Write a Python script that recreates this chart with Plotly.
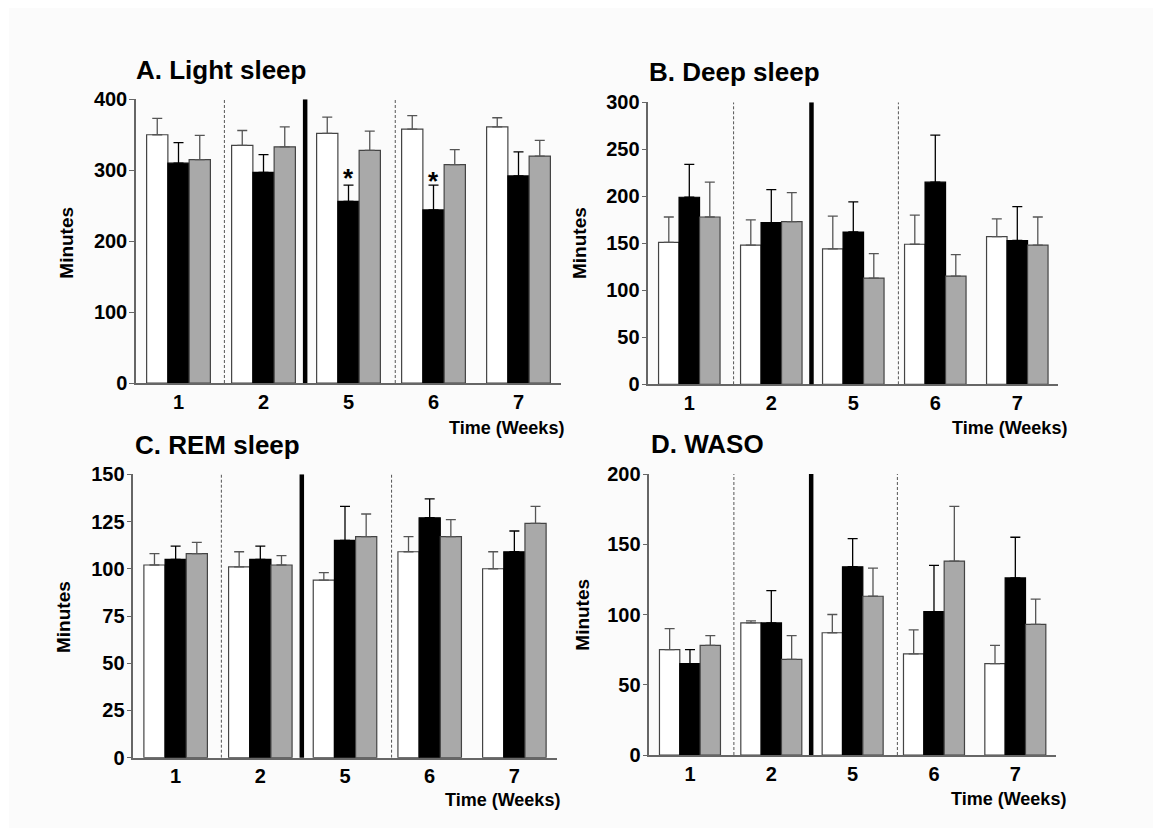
import plotly.graph_objects as go

W, H = 1153, 828

weeks = ['1', '2', '5', '6', '7']

# A. Light sleep
light_white = [350, 335, 352, 358, 361]
light_white_err = [23, 21, 23, 19, 13]
light_black = [310, 297, 256, 244, 292]
light_black_err = [29, 25, 23, 35, 34]
light_grey = [315, 333, 328, 308, 320]
light_grey_err = [34, 28, 27, 21, 22]

# B. Deep sleep
deep_white = [151, 148, 144, 149, 157]
deep_white_err = [27, 27, 35, 31, 19]
deep_black = [199, 172, 162, 215, 153]
deep_black_err = [35, 35, 32, 50, 36]
deep_grey = [178, 173, 113, 115, 148]
deep_grey_err = [37, 31, 26, 23, 30]

# C. REM sleep
rem_white = [102, 101, 94, 109, 100]
rem_white_err = [6, 8, 4, 8, 9]
rem_black = [105, 105, 115, 127, 109]
rem_black_err = [7, 7, 18, 10, 11]
rem_grey = [108, 102, 117, 117, 124]
rem_grey_err = [6, 5, 12, 9, 9]

# D. WASO
waso_white = [75, 94, 87, 72, 65]
waso_white_err = [15, 1.5, 13, 17, 13]
waso_black = [65, 94, 134, 102, 126]
waso_black_err = [10, 23, 20, 33, 29]
waso_grey = [78, 68, 113, 138, 93]
waso_grey_err = [7, 17, 20, 39, 18]

titles = ['A. Light sleep', 'B. Deep sleep', 'C. REM sleep', 'D. WASO']
y_max = [400, 300, 150, 200]
y_dtick = [100, 50, 25, 50]

panels = [
    (light_white, light_white_err, light_black, light_black_err, light_grey, light_grey_err),
    (deep_white, deep_white_err, deep_black, deep_black_err, deep_grey, deep_grey_err),
    (rem_white, rem_white_err, rem_black, rem_black_err, rem_grey, rem_grey_err),
    (waso_white, waso_white_err, waso_black, waso_black_err, waso_grey, waso_grey_err),
]

# pixel boxes of plot areas (left, right, top, bottom)
boxes = [
    (136, 561, 99.3, 383),
    (648.3, 1058.3, 102.3, 384.3),
    (133.3, 556.7, 474.3, 757.7),
    (649.3, 1056, 474, 755),
]

def px(x):
    return x / W

def py(y):
    return 1 - y / H

FONT = 'Arial, Liberation Sans, sans-serif'
AXC = '#666666'

fig = go.Figure()
layout = dict(
    width=W, height=H,
    margin=dict(l=0, r=0, t=0, b=0, pad=0, autoexpand=False),
    paper_bgcolor='white',
    plot_bgcolor='rgba(0,0,0,0)',
    showlegend=False,
    barmode='group',
    bargap=0.25,
    bargroupgap=0,
    font=dict(family=FONT, color='black'),
)

annotations = []
shapes = [dict(type='rect', xref='paper', yref='paper', x0=px(9), x1=1, y0=0, y1=py(8),
               fillcolor='#fbfbfb', line=dict(width=0), layer='below')]

title_pos = [(134, 70), (647, 71.5), (133, 444.5), (649, 443.5)]
ylab_pos = [(66.7, 243), (580, 243), (63.3, 616.7), (581.7, 615)]
xlab_pos = [(566, 428), (1069, 428), (562, 800), (1068, 799)]

for i, (wv, we, bv, be, gv, ge) in enumerate(panels):
    n = '' if i == 0 else str(i + 1)
    xa, ya = 'x' + n, 'y' + n
    series = [
        (wv, we, 'white', '#444444', '#555555'),
        (bv, be, 'black', 'black', 'black'),
        (gv, ge, '#a9a9a9', '#444444', '#555555'),
    ]
    for vals, errs, fc, lc, ec in series:
        fig.add_trace(go.Bar(
            x=weeks, y=vals, xaxis=xa, yaxis=ya,
            marker=dict(color=fc, line=dict(color=lc, width=1.2)),
            error_y=dict(type='data', array=errs, arrayminus=[0] * len(errs),
                         symmetric=False, color=ec, thickness=1.3, width=5),
        ))
    l, r, t, b = boxes[i]
    layout['xaxis' + n] = dict(
        domain=[px(l), px(r)], anchor=ya, type='category', range=[-0.5, 4.5],
        showline=True, linecolor=AXC, linewidth=1.5, ticks='', showgrid=False,
        tickfont=dict(size=20, family=FONT, weight='bold', color='black'),
        fixedrange=True, automargin=False,
    )
    layout['yaxis' + n] = dict(
        domain=[py(b), py(t)], anchor=xa, range=[0, y_max[i]], dtick=y_dtick[i],
        showline=True, linecolor=AXC, linewidth=1.5, ticks='outside', ticklen=5,
        tickcolor=AXC, tickwidth=1.2, showgrid=False, zeroline=False,
        tickfont=dict(size=20, family=FONT, weight='bold', color='black'),
        ticklabelstandoff=-2, automargin=False, fixedrange=True,
    )
    # separators
    for xv in (0.54, 2.55):
        shapes.append(dict(type='line', xref=xa, yref=ya, x0=xv, x1=xv, y0=0, y1=y_max[i],
                           line=dict(color='#555555', width=1, dash='3px,2px')))
    shapes.append(dict(type='line', xref=xa, yref=ya, x0=1.49, x1=1.49,
                       y0=-0.008 * y_max[i], y1=y_max[i],
                       line=dict(color='black', width=4.5)))
    tx, ty = title_pos[i]
    annotations.append(dict(text=titles[i], xref='paper', yref='paper', x=px(tx), y=py(ty),
                            xanchor='left', yanchor='middle', showarrow=False,
                            font=dict(size=26, family=FONT, weight='bold', color='black')))
    lx, ly = ylab_pos[i]
    annotations.append(dict(text='Minutes', xref='paper', yref='paper', x=px(lx), y=py(ly),
                            xanchor='center', yanchor='middle', textangle=-90, showarrow=False,
                            font=dict(size=19, family=FONT, weight='bold', color='black')))
    wx, wy = xlab_pos[i]
    annotations.append(dict(text='Time (Weeks)', xref='paper', yref='paper', x=px(wx), y=py(wy),
                            xanchor='right', yanchor='middle', showarrow=False,
                            font=dict(size=18, family=FONT, weight='bold', color='black')))

# significance markers on light sleep (weeks 5 and 6, black bars)
sig_weeks = [2, 3]
sig_y = [289, 285]
for xv, yv in zip(sig_weeks, sig_y):
    annotations.append(dict(text='*', xref='x', yref='y', x=xv, y=yv, xanchor='center',
                            yanchor='middle', showarrow=False,
                            font=dict(size=26, family=FONT, weight='bold', color='black')))

layout['annotations'] = annotations
layout['shapes'] = shapes
fig.update_layout(**layout)
fig.write_html(
    'out.html',
    config={'displayModeBar': False},
    post_script="document.body.style.margin='0px';document.body.style.overflow='hidden';",
)
